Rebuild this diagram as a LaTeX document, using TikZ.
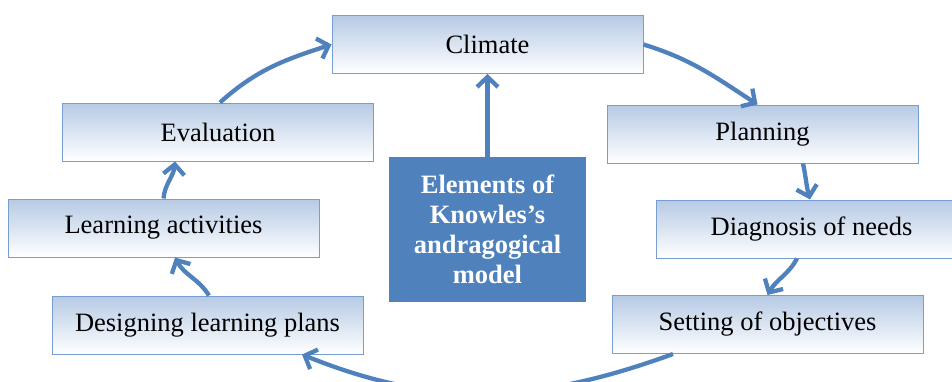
\documentclass[tikz,border=0pt]{standalone}
\usepackage{fontspec}
\setmainfont{Liberation Serif}
\usetikzlibrary{arrows.meta,calc}
\definecolor{arrowblue}{RGB}{79,129,189}
\definecolor{boxtop}{RGB}{182,202,228}
\definecolor{boxline}{RGB}{120,158,208}
\tikzset{
  cyclebox/.style={draw=boxline, line width=1pt, top color=boxtop, bottom color=white,
    minimum width=311pt, minimum height=58pt, inner sep=0pt,
    font=\fontsize{26.5}{30}\selectfont},
  corebox/.style={fill=arrowblue, draw=none, minimum width=197pt, minimum height=145pt,
    inner sep=0pt, text=white, align=center,
    font=\fontsize{26.5}{30}\selectfont\bfseries},
  flow/.style={draw=arrowblue, line width=4.3pt,
    -{Straight Barb[length=10pt,width=21pt,line width=4.3pt]}}
}
\begin{document}
\begin{tikzpicture}[x=1pt,y=1pt]
\useasboundingbox (0,0) rectangle (952,381);
\clip (0,0) rectangle (952,381);
\node[cyclebox] (climate) at (487.5,336.5) {Climate};
\node[cyclebox] (evaluation) at (218,249) {Evaluation};
\node[cyclebox] (planning) at (762.5,247) {Planning};
\node[cyclebox] (learning) at (163.5,153) {Learning activities};
\node[cyclebox] (diagnosis) at (811.5,152) {Diagnosis of needs};
\node[cyclebox] (designing) at (207.5,56) {Designing learning plans};
\node[cyclebox] (setting) at (767.5,56.5) {Setting of objectives};
\node[corebox] (core) at (487.5,151.5) {Elements of\\Knowles's\\andragogical\\model};

\draw[flow] (core.north) -- (climate.south);
\draw[flow] ([xshift=2pt]evaluation.north) to[out=42,in=198] (climate.west);
\draw[flow] (climate.east) to[out=-17,in=147] ([xshift=-5pt]planning.north);
\draw[flow] ([xshift=40.5pt]planning.south) to[out=-78,in=105] ([xshift=-1.5pt]diagnosis.north);
\draw[flow] ([xshift=-14.5pt]diagnosis.south) to[out=-118,in=60] (setting.north);
\draw[flow] ([xshift=-94.5pt]setting.south) to[out=-160,in=-22] ([xshift=94.5pt]designing.south);
\draw[flow] ([xshift=1.5pt]designing.north) to[out=122,in=-62] ([xshift=11.5pt]learning.south);
\draw[flow] (learning.north) to[out=85,in=-95] ([xshift=-43pt]evaluation.south);
\end{tikzpicture}
\end{document}
